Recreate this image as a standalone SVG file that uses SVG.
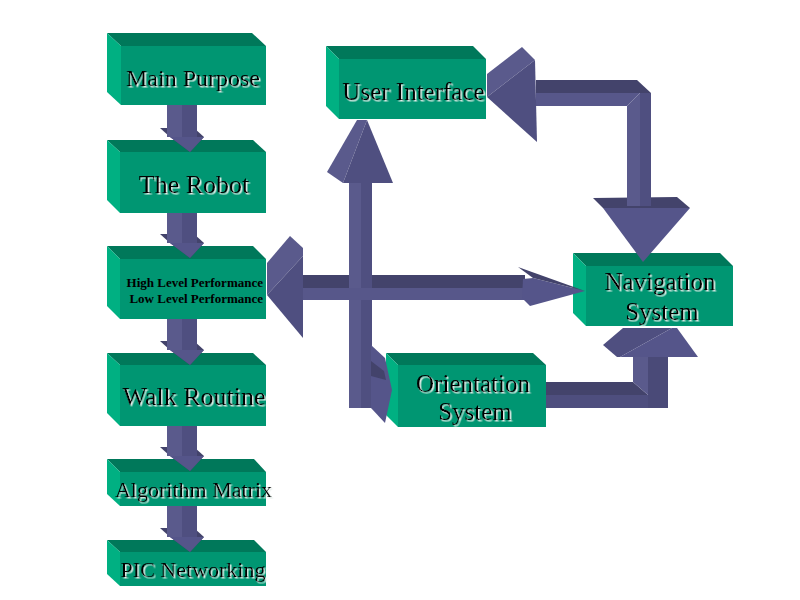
<svg xmlns="http://www.w3.org/2000/svg" width="800" height="600" viewBox="0 0 800 600">
<defs>
<style>
.top{fill:#00785a}
.left{fill:#00b082}
.front{fill:#009672}
.t{font-family:"Liberation Serif","Times New Roman",serif;fill:#000;text-anchor:middle;filter:url(#sh)}
.s{font-family:"Liberation Serif","Times New Roman",serif;fill:#000;text-anchor:end;font-weight:bold;font-size:13px}
.a1{fill:#5a5a8c}
.a2{fill:#4f4f80}
.a3{fill:#43436b}
.a4{fill:#55558a}
</style>
<filter id="sh" x="-5%" y="-10%" width="115%" height="130%">
<feDropShadow dx="1.5" dy="1.5" stdDeviation="0.3" flood-color="#e4ece8" flood-opacity="1"/>
</filter>
</defs>
<rect width="800" height="600" fill="#fff"/>

<g id="main-purpose">
<polygon class="top" points="107,33 252,33 266,46 121,46"/>
<polygon class="left" points="107,33 121,46 121,105 107,92"/>
<rect class="front" x="121" y="46" width="145" height="59"/>
<text class="t" x="193" y="86" font-size="24">Main Purpose</text>
</g>

<g id="the-robot">
<polygon class="top" points="107,140 253,140 266,152 120,152"/>
<polygon class="left" points="107,140 120,152 120,213 107,200"/>
<rect class="front" x="120" y="152" width="146" height="61"/>
<text class="t" x="194" y="193" font-size="26">The Robot</text>
</g>

<g id="performance">
<polygon class="top" points="107,246 253,246 266,259 120,259"/>
<polygon class="left" points="107,246 120,259 120,319 107,306"/>
<rect class="front" x="120" y="259" width="146" height="60"/>
<text class="s" x="263" y="287">High Level Performance</text>
<text class="s" x="263" y="303">Low Level Performance</text>
</g>

<g id="walk-routine">
<polygon class="top" points="107,353 253,353 266,365 120,365"/>
<polygon class="left" points="107,353 120,365 120,426 107,413"/>
<rect class="front" x="120" y="365" width="146" height="61"/>
<text class="t" x="194" y="405" font-size="26">Walk Routine</text>
</g>

<g id="algorithm-matrix">
<polygon class="top" points="107,459 254,459 266,472 120,472"/>
<polygon class="left" points="107,459 120,472 120,506 107,494"/>
<rect class="front" x="120" y="472" width="146" height="34"/>
<text class="t" x="193.5" y="497" font-size="22">Algorithm Matrix</text>
</g>

<g id="pic-networking">
<polygon class="top" points="107,540 254,540 266,552 120,552"/>
<polygon class="left" points="107,540 120,552 120,586 107,574"/>
<rect class="front" x="120" y="552" width="146" height="34"/>
<text class="t" x="193" y="577" font-size="22">PIC Networking</text>
</g>

<g id="user-interface">
<polygon class="top" points="326,46 473,46 486,59 339,59"/>
<polygon class="left" points="326,46 339,59 339,119 326,106"/>
<rect class="front" x="339" y="59" width="147" height="60"/>
<text class="t" x="413.5" y="100" font-size="25">User Interface</text>
</g>

<g id="navigation-system">
<polygon class="top" points="573,253 720,253 733,266 586,266"/>
<polygon class="left" points="573,253 586,266 586,326 573,313"/>
<rect class="front" x="586" y="266" width="147" height="60"/>
<text class="t" x="660" y="290" font-size="25">Navigation</text>
<text class="t" x="662" y="320" font-size="25">System</text>
</g>

<g id="orientation-system">
<polygon class="top" points="386,353 533,353 546,365 398,365"/>
<polygon class="left" points="386,353 398,365 398,427 386,415"/>
<rect class="front" x="398" y="365" width="148" height="62"/>
<text class="t" x="473" y="392" font-size="25">Orientation</text>
<text class="t" x="475" y="420" font-size="25">System</text>
</g>

<g id="connectors">
<g>
<polygon class="a3" points="160,128 194,128 204,137 190,152 170,137"/>
<polygon class="a4" points="170,137 204,137 190,152"/>
<rect class="a1" x="167" y="105" width="15" height="32"/>
<rect class="a2" x="182" y="105" width="15" height="32"/>
</g>
<g>
<polygon class="a3" points="160,234 194,234 204,243 190,258 170,243"/>
<polygon class="a4" points="170,243 204,243 190,258"/>
<rect class="a1" x="167" y="213" width="15" height="30"/>
<rect class="a2" x="182" y="213" width="15" height="30"/>
</g>
<g>
<polygon class="a3" points="160,341 194,341 204,350 190,365 170,350"/>
<polygon class="a4" points="170,350 204,350 190,365"/>
<rect class="a1" x="167" y="319" width="15" height="31"/>
<rect class="a2" x="182" y="319" width="15" height="31"/>
</g>
<g>
<polygon class="a3" points="160,447 194,447 204,456 190,471 170,456"/>
<polygon class="a4" points="170,456 204,456 190,471"/>
<rect class="a1" x="167" y="426" width="15" height="30"/>
<rect class="a2" x="182" y="426" width="15" height="30"/>
</g>
<g>
<polygon class="a3" points="160,528 194,528 204,537 190,552 170,537"/>
<polygon class="a4" points="170,537 204,537 190,552"/>
<rect class="a1" x="167" y="506" width="15" height="31"/>
<rect class="a2" x="182" y="506" width="15" height="31"/>
</g>

<rect class="a3" x="303" y="275" width="222" height="13"/>
<rect class="a1" x="349" y="183" width="12" height="225"/>
<rect class="a2" x="361" y="183" width="11" height="225"/>
<rect fill="#57578a" x="303" y="288" width="222" height="12"/>
<polygon class="a1" points="267,263 290,236 303,248 303,256 267,295"/>
<polygon class="a2" points="267,295 303,256 303,338"/>
<polygon class="a4" points="523,279 533,278 585,291 530,306 522,298"/>
<polygon class="a3" points="518,267 585,291 533,278"/>
<polygon class="a1" points="357,120 367,120 343,183 327,172"/>
<polygon class="a2" points="367,120 393,183 343,183"/>
<polygon class="a4" points="371,345 385,358 392,390 385,423 371,408"/>
<polygon class="a3" points="371,361 384,371 386,380 371,376"/>

<polygon class="a3" points="536,80 637,80 651,93 536,93"/>
<polygon fill="#57578a" points="536,93 640,93 627,106 536,106"/>
<polygon class="a3" points="593,198 677,197 690,208 603,208"/>
<polygon class="a4" points="603,208 690,208 643,262"/>
<polygon class="a1" points="627,106 640,93 640,206 627,206"/>
<polygon class="a2" points="640,93 651,93 651,206 640,206"/>
<polygon class="a1" points="487,74 522,47 535,60 487,97"/>
<polygon class="a2" points="487,97 535,60 537,142"/>

<polygon class="a3" points="546,382 633,382 648,395 546,395"/>
<rect fill="#4e4e7e" x="546" y="395" width="102" height="13"/>
<polygon class="a1" points="633,357 648,357 648,395 633,382"/>
<rect fill="#4a4a78" x="648" y="357" width="20" height="51"/>
<polygon class="a2" points="603,345 623,328 672,328 620,357 617,357"/>
<polygon class="a4" points="672,328 677,328 698,357 620,357"/>
</g>
</svg>
